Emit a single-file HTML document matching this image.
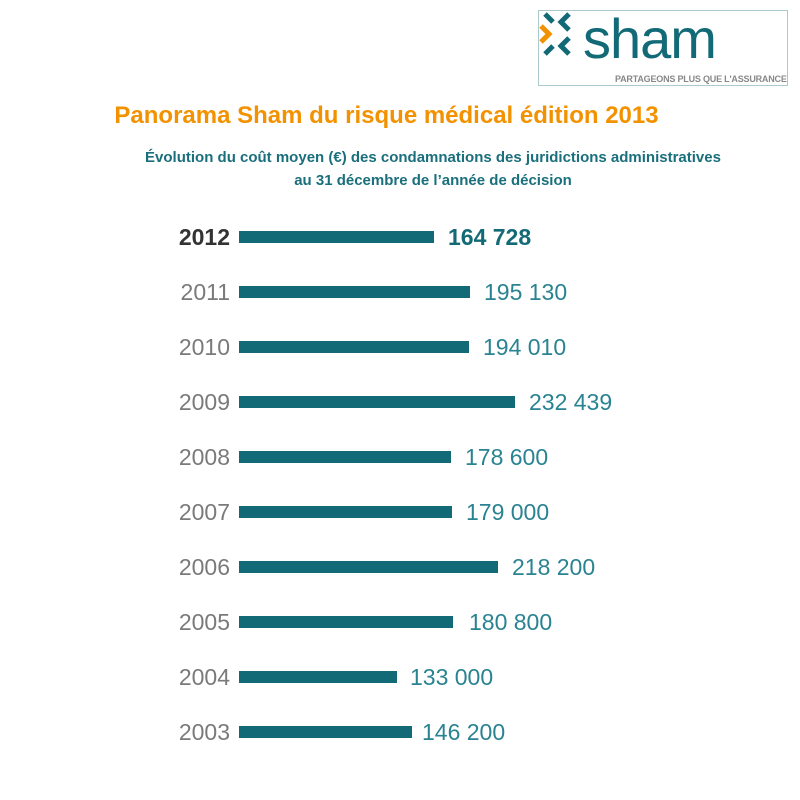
<!DOCTYPE html>
<html><head><meta charset="utf-8"><style>
body{margin:0;width:800px;height:800px;background:#fff;position:relative;font-family:"Liberation Sans",sans-serif;overflow:hidden}
.a{position:absolute}
.t{font-weight:bold;text-align:center;white-space:nowrap}
.y{width:190px;left:40px;text-align:right;font-size:23px;color:#7a7a7a;line-height:24px}
.b{height:12px;background:#136a77;left:239px}
.v{font-size:23px;color:#2a8391;line-height:24px}
</style></head><body>
<div class="a" style="left:538px;top:10px;width:248px;height:74px;border:1px solid #a9c9cc"></div>
<svg class="a" style="left:538px;top:10px" width="50" height="50">
<polyline points="7,4 15,12" fill="none" stroke="#136a77" stroke-width="5"/>
<polyline points="31,4 23,12 31,20" fill="none" stroke="#136a77" stroke-width="5"/>
<polyline points="3,16 11,24 3,32" fill="none" stroke="#f39200" stroke-width="5"/>
<polyline points="7,44 15,36" fill="none" stroke="#136a77" stroke-width="5"/>
<polyline points="31,28 23,36 31,44" fill="none" stroke="#136a77" stroke-width="5"/>
</svg>
<div class="a" style="left:583px;top:8px;font-size:56px;color:#136a77;line-height:62px;letter-spacing:-1px">sham</div>
<div class="a" style="left:615px;top:74px;font-size:9px;color:#888;font-weight:bold;white-space:nowrap;letter-spacing:-0.2px">PARTAGEONS PLUS QUE L'ASSURANCE</div>
<div class="a t" style="left:0;width:773px;top:102px;font-size:24px;color:#f39200">Panorama Sham du risque médical édition 2013</div>
<div class="a t" style="left:0;width:866px;top:146px;font-size:15px;color:#1a6f7c;line-height:23px">Évolution du coût moyen (€) des condamnations des juridictions administratives<br>au 31 décembre de l’année de décision</div>

<div class="a y" style="top:225px;color:#333;font-weight:bold">2012</div><div class="a b" style="top:231px;width:195px"></div><div class="a v" style="top:225px;left:448px;font-weight:bold;color:#136a77">164 728</div>
<div class="a y" style="top:280px">2011</div><div class="a b" style="top:286px;width:231px"></div><div class="a v" style="top:280px;left:484px">195 130</div>
<div class="a y" style="top:335px">2010</div><div class="a b" style="top:341px;width:230px"></div><div class="a v" style="top:335px;left:483px">194 010</div>
<div class="a y" style="top:390px">2009</div><div class="a b" style="top:396px;width:276px"></div><div class="a v" style="top:390px;left:529px">232 439</div>
<div class="a y" style="top:445px">2008</div><div class="a b" style="top:451px;width:212px"></div><div class="a v" style="top:445px;left:465px">178 600</div>
<div class="a y" style="top:500px">2007</div><div class="a b" style="top:506px;width:213px"></div><div class="a v" style="top:500px;left:466px">179 000</div>
<div class="a y" style="top:555px">2006</div><div class="a b" style="top:561px;width:259px"></div><div class="a v" style="top:555px;left:512px">218 200</div>
<div class="a y" style="top:610px">2005</div><div class="a b" style="top:616px;width:214px"></div><div class="a v" style="top:610px;left:469px">180 800</div>
<div class="a y" style="top:665px">2004</div><div class="a b" style="top:671px;width:158px"></div><div class="a v" style="top:665px;left:410px">133 000</div>
<div class="a y" style="top:720px">2003</div><div class="a b" style="top:726px;width:173px"></div><div class="a v" style="top:720px;left:422px">146 200</div>
</body></html>
